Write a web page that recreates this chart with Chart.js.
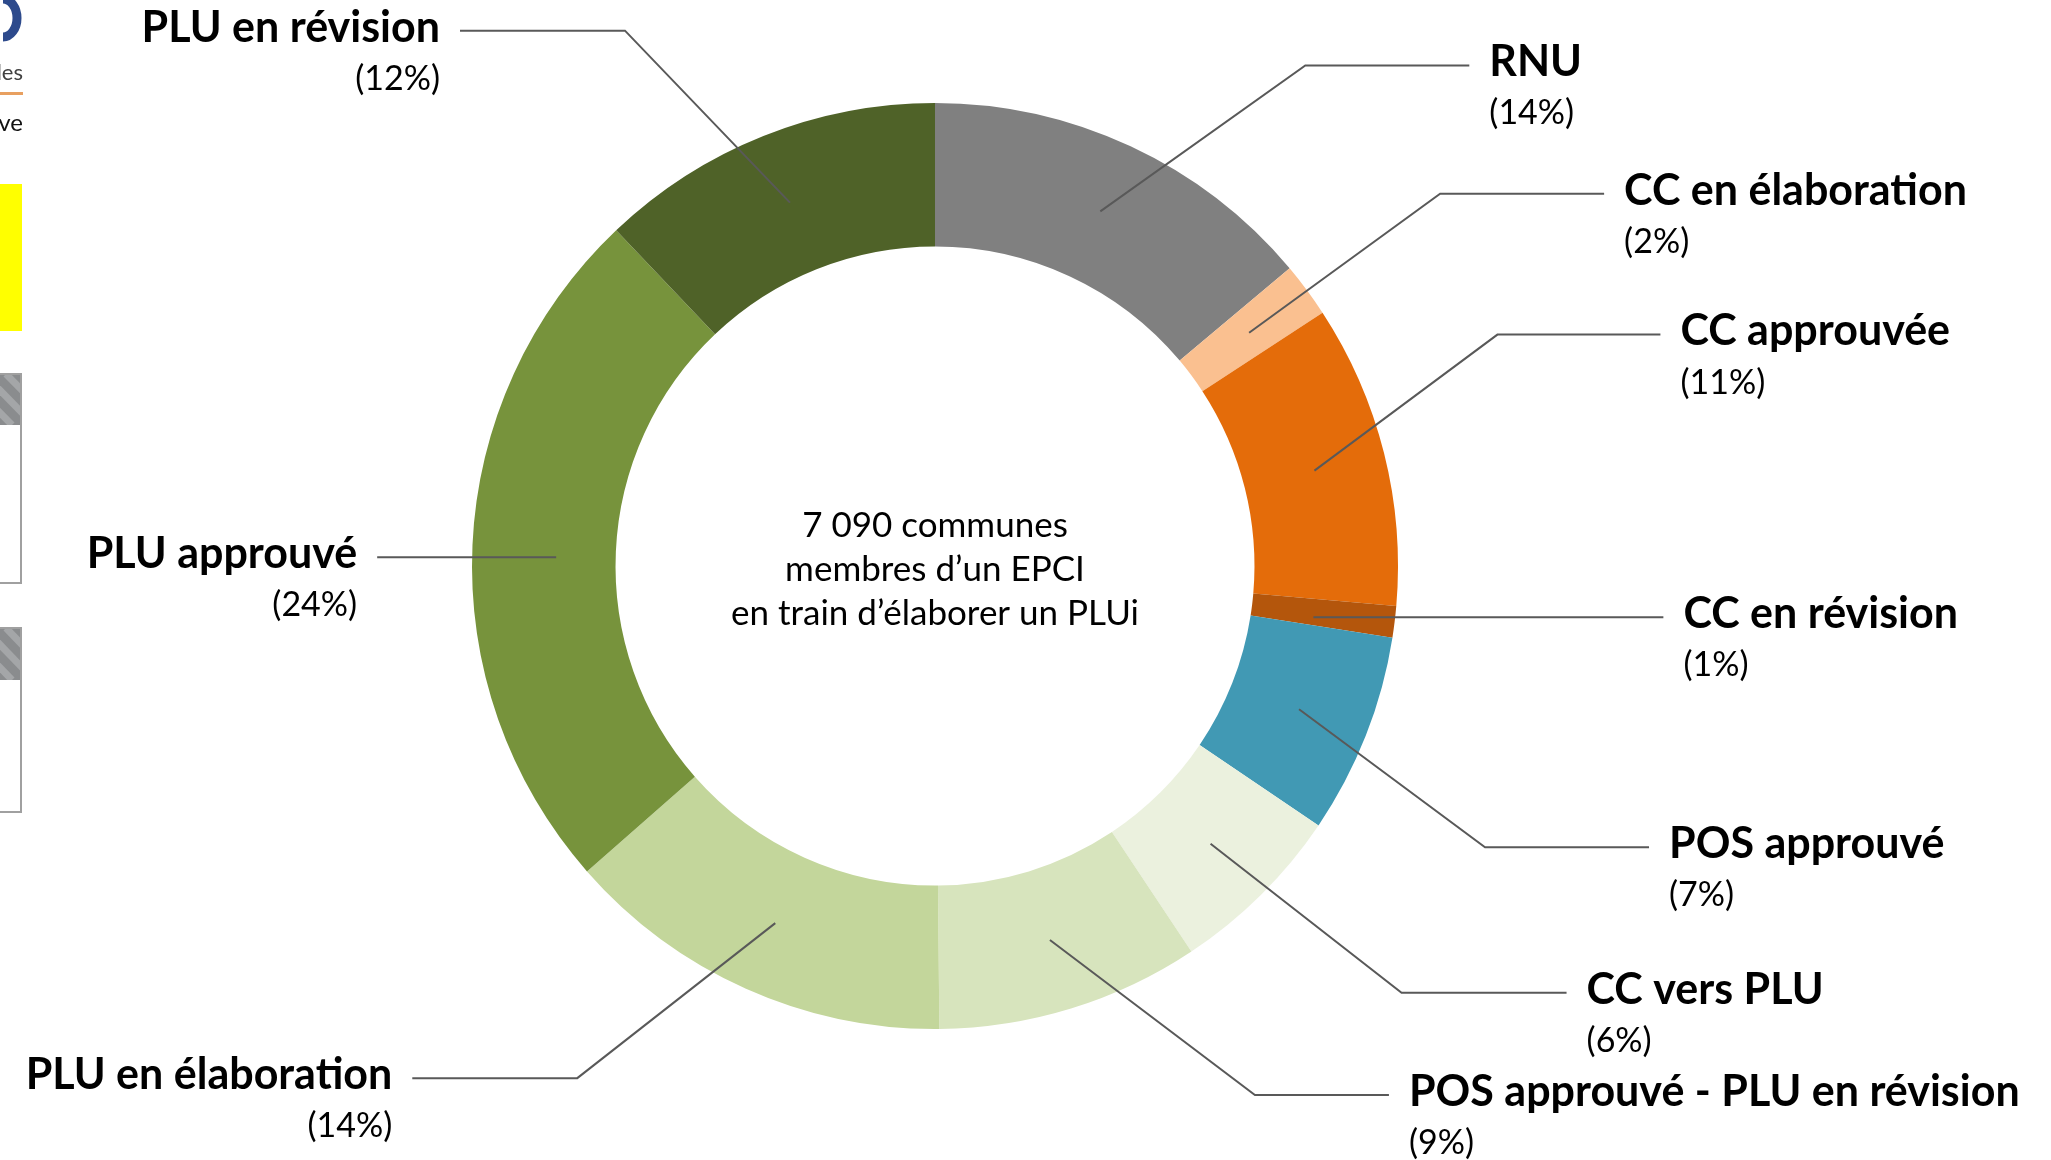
<!DOCTYPE html>
<html lang="fr">
<head>
<meta charset="utf-8">
<title>Documents d'urbanisme des communes membres d'un EPCI</title>
<script src="https://cdn.jsdelivr.net/npm/chart.js@4.4.1/dist/chart.umd.min.js"></script>
<style>
    html, body { margin: 0; padding: 0; background: #ffffff; }
    #wrap { width: 2051px; height: 1160px; position: relative; }
</style>
</head>
<body>
<div id="wrap"><canvas id="main-chart" width="2051" height="1160"></canvas></div>
<script>
// ==================== DONNÉES ====================

// Catégories dans l'ordre du tracé (sens horaire depuis midi)
const categories = [
    'RNU',
    'CC en élaboration',
    'CC approuvée',
    'CC en révision',
    'POS approuvé',
    'CC vers PLU',
    'POS approuvé - PLU en révision',
    'PLU en élaboration',
    'PLU approuvé',
    'PLU en révision'
];

// Part des communes (en %)
const shares = [13.9, 1.9, 10.6, 1.1, 7.0, 6.2, 9.2, 13.7, 24.4, 12.1];

const sliceColors = [
    '#808080', '#fac090', '#e46c0a', '#b4560c', '#4199b4',
    '#ebf1de', '#d7e4bd', '#c3d69b', '#77933c', '#4f6228'
];

const centerLines = ['7 090 communes', 'membres d\u2019un EPCI', 'en train d\u2019élaborer un PLUi'];

// Disposition des étiquettes : décalage du point d'ancrage (ax, ay), coude relatif (dx, dy),
// longueur du trait horizontal, côté
const leaderLayout = [
    { ax: 0, ay: 0, dx: 205, dy: -146, len: 164, side: 'right' },
    { ax: 0, ay: 0, dx: 191, dy: -139, len: 164, side: 'right' },
    { ax: 0, ay: 0, dx: 183, dy: -136, len: 163, side: 'right' },
    { ax: -10, ay: 4, dx: 0, dy: 0, len: 350, side: 'right' },
    { ax: 0, ay: 0, dx: 186, dy: 138, len: 164, side: 'right' },
    { ax: 0, ay: 0, dx: 191, dy: 149, len: 165, side: 'right' },
    { ax: 0, ay: 0, dx: 205, dy: 155, len: 134, side: 'right' },
    { ax: 0, ay: 0, dx: -198, dy: 155, len: 165, side: 'left' },
    { ax: 12, ay: 9, dx: 0, dy: 0, len: 179, side: 'left' },
    { ax: 0, ay: 0, dx: -165, dy: -172, len: 165, side: 'left' }
];

const total = shares.reduce((a, b) => a + b, 0);

// ==================== PLUGINS ====================

/**
 * Fragments de la diapositive voisine, coupés sur le bord gauche
 */
const edgeFragments = {
    id: 'edgeFragments',
    beforeDraw(chart) {
        const ctx = chart.ctx;
        ctx.save();
        ctx.fillStyle = '#ffffff';
        ctx.fillRect(0, 0, chart.width, chart.height);

        // lettre bleue coupée
        ctx.strokeStyle = '#2d4a8c';
        ctx.lineWidth = 9;
        ctx.beginPath();
        ctx.ellipse(3, 18, 14, 19, 0, -Math.PI / 2, Math.PI / 2);
        ctx.stroke();

        ctx.fillStyle = '#404040';
        ctx.font = '22px Lato';
        ctx.textAlign = 'right';
        ctx.textBaseline = 'alphabetic';
        ctx.fillText('les', 23, 80);
        ctx.fillStyle = '#e8a060';
        ctx.fillRect(0, 92, 23, 3);
        ctx.fillStyle = '#111111';
        ctx.font = '24px Lato';
        ctx.fillText('ve', 23, 131);

        // rectangle jaune
        ctx.fillStyle = '#ffff00';
        ctx.fillRect(0, 184, 22, 147);

        // deux cadres à bandeau hachuré
        [[374, 425, 583], [628, 680, 812]].forEach(([top, band, bottom]) => {
            ctx.fillStyle = '#8a8c8e';
            ctx.fillRect(0, top, 22, band - top);
            ctx.save();
            ctx.beginPath();
            ctx.rect(0, top, 22, band - top);
            ctx.clip();
            ctx.strokeStyle = '#a4a6a8';
            ctx.lineWidth = 7;
            for (let k = -60; k < 40; k += 22) {
                ctx.beginPath();
                ctx.moveTo(k, top);
                ctx.lineTo(k + 50, band);
                ctx.stroke();
            }
            ctx.restore();
            ctx.strokeStyle = '#a0a0a0';
            ctx.lineWidth = 2;
            ctx.strokeRect(-5, top, 26, bottom - top);
        });
        ctx.restore();
    }
};

/**
 * Traits de rappel, étiquettes et texte central
 */
const leaderLabels = {
    id: 'leaderLabels',
    afterDatasetsDraw(chart) {
        const ctx = chart.ctx;
        const arcs = chart.getDatasetMeta(0).data;
        ctx.save();

        arcs.forEach((arc, i) => {
            const p = arc.getProps(['x', 'y', 'startAngle', 'endAngle', 'innerRadius', 'outerRadius'], true);
            const mid = (p.startAngle + p.endAngle) / 2;
            const r = (p.innerRadius + p.outerRadius) / 2;
            const lay = leaderLayout[i];
            const sx = p.x + Math.cos(mid) * r + lay.ax;
            const sy = p.y + Math.sin(mid) * r + lay.ay;
            const ex = sx + lay.dx;
            const ey = sy + lay.dy;
            const dir = lay.side === 'right' ? 1 : -1;
            const hx = ex + dir * lay.len;

            ctx.strokeStyle = '#595959';
            ctx.lineWidth = 2;
            ctx.beginPath();
            ctx.moveTo(sx, sy);
            ctx.lineTo(ex, ey);
            ctx.lineTo(hx, ey);
            ctx.stroke();

            const tx = hx + dir * 20;
            ctx.textAlign = lay.side === 'right' ? 'left' : 'right';
            ctx.textBaseline = 'middle';
            ctx.fillStyle = '#000000';
            ctx.font = 'bold 43px Lato';
            ctx.fillText(categories[i], tx, ey - 3);
            ctx.font = '34px Lato';
            const pct = Math.round(shares[i] / total * 100);
            ctx.fillText('(' + pct + '%)', tx, ey + 48);
        });

        // texte central
        const c = arcs[0];
        ctx.fillStyle = '#000000';
        ctx.font = '35px Lato';
        ctx.textAlign = 'center';
        ctx.textBaseline = 'middle';
        centerLines.forEach((line, k) => {
            ctx.fillText(line, c.x, c.y + (k - 1) * 44 + 4);
        });
        ctx.restore();
    }
};

// ==================== GRAPHIQUE ====================

const ctx = document.getElementById('main-chart');

const mainChart = new Chart(ctx, {
    type: 'doughnut',
    data: {
        labels: categories,
        datasets: [{
            data: shares,
            backgroundColor: sliceColors,
            borderWidth: 0
        }]
    },
    options: {
        responsive: false,
        animation: false,
        devicePixelRatio: 1,
        cutout: '69%',
        rotation: 0,
        layout: {
            padding: { left: 472, right: 653, top: 103, bottom: 131 }
        },
        plugins: {
            legend: { display: false },
            tooltip: { enabled: false }
        }
    },
    plugins: [edgeFragments, leaderLabels]
});
</script>
</body>
</html>
